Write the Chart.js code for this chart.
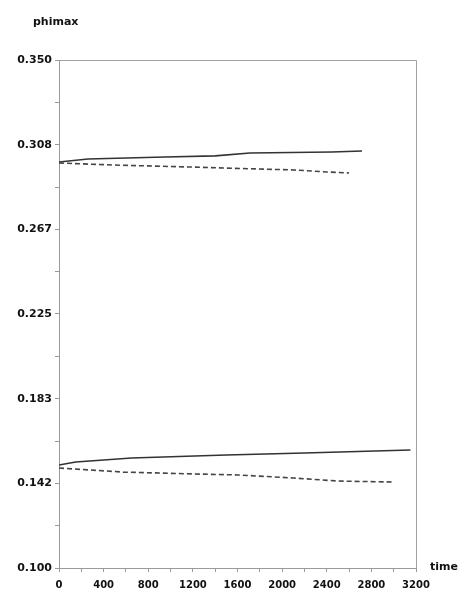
<!DOCTYPE html>
<html>
<head>
<meta charset="utf-8">
<script src="https://cdn.jsdelivr.net/npm/chart.js@4/dist/chart.umd.min.js"></script>
<style>
  html, body { margin: 0; padding: 0; background: #fff; }
  #wrap { width: 460px; height: 595px; position: relative; }
</style>
</head>
<body>
<div id="wrap"><canvas id="ChartPhi"></canvas></div>
<script>
const yLabels = ['0.100', '0.142', '0.183', '0.225', '0.267', '0.308', '0.350']
const xLabels = ['0', '400', '800', '1200', '1600', '2000', '2400', '2800', '3200']

// curvas superiores
const upSolidT = [0, 260, 950, 1400, 1712, 2447, 2716]
const upSolidV = [0.2998, 0.3013, 0.3023, 0.3028, 0.3042, 0.3047, 0.3052]
const upDashT = [0, 500, 1200, 1500, 2100, 2400, 2600]
const upDashV = [0.2993, 0.2983, 0.2973, 0.2968, 0.2959, 0.2949, 0.2944]

// curvas inferiores
const lowSolidT = [0, 150, 650, 1500, 2200, 3150]
const lowSolidV = [0.1507, 0.1522, 0.1541, 0.1556, 0.1566, 0.1581]
const lowDashT = [0, 575, 1200, 1600, 2100, 2500, 3000]
const lowDashV = [0.1492, 0.1472, 0.1463, 0.1458, 0.1443, 0.1428, 0.1423]

const pares = (ts, vs) => ts.map((t, i) => ({ x: t, y: vs[i] }))

const fuenteY = { family: 'DejaVu Sans', size: 11, weight: 'bold' }
const fuenteX = { family: 'DejaVu Sans', size: 10, weight: 'bold' }

// marco gris y textos de los ejes
const marco = {
    id: 'marco',
    afterDraw(chart) {
        const { ctx, chartArea: a } = chart
        ctx.save()
        ctx.strokeStyle = '#a0a0a0'
        ctx.lineWidth = 1
        ctx.beginPath()
        ctx.moveTo(a.left, a.top + 0.5)
        ctx.lineTo(a.right + 0.5, a.top + 0.5)
        ctx.lineTo(a.right + 0.5, a.bottom)
        ctx.stroke()
        ctx.fillStyle = '#111'
        ctx.font = 'bold 11px "DejaVu Sans"'
        ctx.textBaseline = 'middle'
        ctx.fillText('phimax', 33, 22)
        ctx.fillText('time', 430, a.bottom - 1)
        ctx.restore()
    }
}

const ejeX = []
for (let t = 0; t <= 3200; t += 200) ejeX.push({ value: t })
const ejeY = []
for (let k = 0; k <= 12; k++) ejeY.push({ value: 0.1 + k * 0.25 / 12 })

new Chart(document.getElementById('ChartPhi'), {
    type: 'line',
    data: {
        datasets: [
            { data: pares(upSolidT, upSolidV), borderColor: '#333', borderWidth: 1.6 },
            { data: pares(upDashT, upDashV), borderColor: '#444', borderWidth: 1.6, borderDash: [5, 3] },
            { data: pares(lowSolidT, lowSolidV), borderColor: '#333', borderWidth: 1.6 },
            { data: pares(lowDashT, lowDashV), borderColor: '#444', borderWidth: 1.6, borderDash: [5, 3] }
        ]
    },
    options: {
        responsive: true,
        maintainAspectRatio: false,
        animation: false,
        layout: { padding: { top: 60, right: 44, left: 0, bottom: 0 } },
        elements: { point: { radius: 0 }, line: { tension: 0 } },
        plugins: { legend: { display: false }, tooltip: { enabled: false } },
        scales: {
            x: {
                type: 'linear',
                min: 0,
                max: 3200,
                afterBuildTicks: (s) => { s.ticks = ejeX.map(o => ({ value: o.value })) },
                afterFit: (s) => { s.height = 27 },
                grid: { drawOnChartArea: false, tickLength: 4, color: '#999' },
                border: { color: '#999' },
                ticks: {
                    autoSkip: false,
                    maxRotation: 0,
                    padding: 7,
                    color: '#111',
                    font: fuenteX,
                    callback: (v) => (v % 400 === 0 ? xLabels[v / 400] : '')
                }
            },
            y: {
                min: 0.1,
                max: 0.35,
                afterBuildTicks: (s) => { s.ticks = ejeY.map(o => ({ value: o.value })) },
                afterFit: (s) => { s.width = 59 },
                grid: { drawOnChartArea: false, tickLength: 4, color: '#999' },
                border: { color: '#999' },
                ticks: {
                    autoSkip: false,
                    padding: 3,
                    color: '#111',
                    font: fuenteY,
                    callback: (v, i) => (i % 2 === 0 ? yLabels[i / 2] : '')
                }
            }
        }
    },
    plugins: [marco]
})
</script>
</body>
</html>
